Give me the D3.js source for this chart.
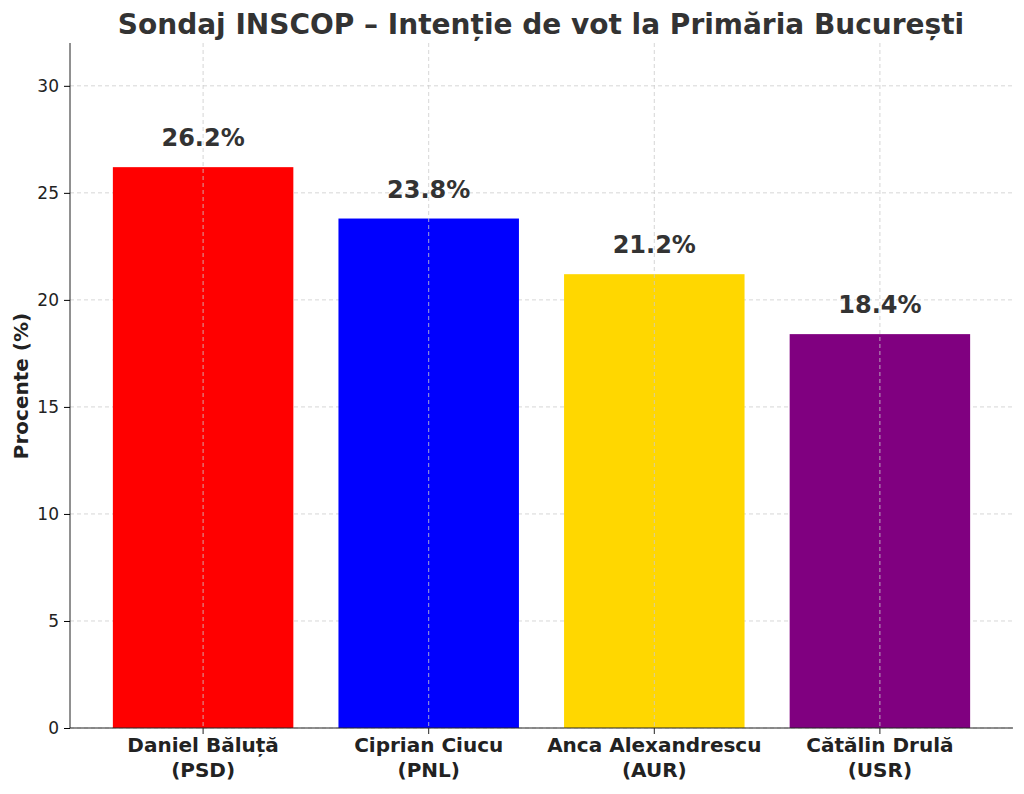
<!DOCTYPE html>
<html><head><meta charset="utf-8">
<script src="https://cdn.jsdelivr.net/npm/d3@7"></script>
<style>body{margin:0;background:#fff}text{font-family:"DejaVu Sans",sans-serif}</style>
</head><body><svg id="c" width="1024" height="794"></svg>
<script>
const names = ["Daniel Băluță", "Ciprian Ciucu", "Anca Alexandrescu", "Cătălin Drulă"];
const parties = ["(PSD)", "(PNL)", "(AUR)", "(USR)"];
const values = [26.2, 23.8, 21.2, 18.4];
const colors = ["#ff0000", "#0000ff", "#ffd700", "#800080"];
const yTicks = [0, 5, 10, 15, 20, 25, 30];

const svg = d3.select("#c");
const L = 70, R = 1013, T = 43, B = 728;
const x = d3.scaleLinear().domain([-0.59, 3.59]).range([L, R]);
const y = d3.scaleLinear().domain([0, 32]).range([B, T]);
const bw = x(0.8) - x(0);

// grid
svg.append("g").selectAll("line").data(yTicks).join("line")
  .attr("x1", L).attr("x2", R).attr("y1", d => y(d)).attr("y2", d => y(d))
  .attr("stroke", "#ccc").attr("stroke-dasharray", "4,3").attr("stroke-width", 0.8);

svg.append("g").selectAll("rect").data(values).join("rect")
  .attr("x", (d, i) => x(i) - bw / 2).attr("width", bw)
  .attr("y", d => y(d)).attr("height", d => B - y(d))
  .attr("fill", (d, i) => colors[i]);

svg.append("g").selectAll("line").data(values).join("line")
  .attr("x1", (d, i) => x(i)).attr("x2", (d, i) => x(i)).attr("y1", T).attr("y2", B)
  .attr("stroke", "#ccc").attr("stroke-dasharray", "4,3").attr("stroke-width", 0.8);

// axes
const ya = svg.append("g").attr("transform", `translate(${L},0)`)
  .call(d3.axisLeft(y).tickValues(yTicks).tickSize(6).tickPadding(5));
ya.selectAll("text").attr("font-size", 17).attr("fill", "#222").style("font-family", "DejaVu Sans");
ya.select(".domain").attr("d", `M0,${T}V${B}`).attr("stroke", "#222");

svg.append("line").attr("x1", L).attr("x2", R).attr("y1", B).attr("y2", B).attr("stroke", "#222");
svg.append("g").selectAll("line").data(values).join("line")
  .attr("x1", (d, i) => x(i)).attr("x2", (d, i) => x(i)).attr("y1", B).attr("y2", B + 6).attr("stroke", "#222");

const cat = svg.append("g").selectAll("text").data(names).join("text")
  .attr("x", (d, i) => x(i)).attr("y", 752).attr("text-anchor", "middle")
  .attr("font-size", 20).attr("font-weight", "bold").attr("fill", "#222");
cat.append("tspan").text(d => d);
cat.append("tspan").attr("x", (d, i) => x(i)).attr("dy", 25).text((d, i) => parties[i]);

svg.append("g").selectAll("text").data(values).join("text")
  .attr("x", (d, i) => x(i)).attr("y", d => y(d) - 21).attr("text-anchor", "middle")
  .attr("font-size", 24).attr("font-weight", "bold").attr("fill", "#333")
  .text(d => d.toFixed(1) + "%");

svg.append("text").attr("x", 541).attr("y", 34).attr("text-anchor", "middle")
  .attr("font-size", 28).attr("font-weight", "bold").attr("fill", "#333")
  .text("Sondaj INSCOP – Intenție de vot la Primăria București");

svg.append("text").attr("transform", "translate(28,386) rotate(-90)").attr("text-anchor", "middle")
  .attr("font-size", 20).attr("font-weight", "bold").attr("fill", "#222").text("Procente (%)");
</script></body></html>
